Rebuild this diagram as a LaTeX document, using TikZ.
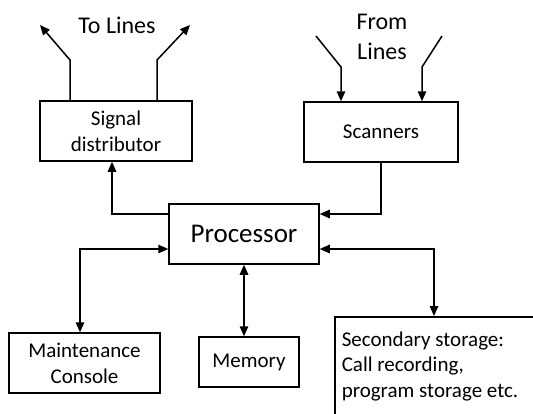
\documentclass[tikz,border=0pt]{standalone}
\usepackage{fontspec}
\setmainfont{Carlito}
\usetikzlibrary{arrows.meta}
\begin{document}
\begin{tikzpicture}[x=1pt,y=-1pt,line width=1.5pt,
  box/.style={draw,line width=1.5pt,inner sep=0pt,align=center,
              font=\fontsize{21}{26}\selectfont},
  label/.style={inner sep=0pt,align=center,font=\fontsize{24}{30}\selectfont},
  onetip/.style={-{Triangle[length=10pt,width=8.5pt]}},
  twotip/.style={{Triangle[length=10pt,width=8.5pt]}-{Triangle[length=10pt,width=8.5pt]}}]
\useasboundingbox (0,0) rectangle (533,413);
\clip (0,0) rectangle (533,413);

% blocks
\node[box,minimum width=152pt,minimum height=60pt] (sig) at (116,131) {Signal\\distributor};
\node[box,minimum width=154pt,minimum height=60pt] (scan) at (381,132) {Scanners};
\node[box,minimum width=150pt,minimum height=60pt,font=\fontsize{27}{32}\selectfont] (proc) at (244,234) {Processor};
\node[box,minimum width=151pt,minimum height=60pt] (maint) at (84.5,363) {Maintenance\\Console};
\node[box,minimum width=100pt,minimum height=50pt] (mem) at (249,362) {Memory};
\node[box,anchor=north west,minimum width=215pt,minimum height=120pt] (sec) at (334,316) {};
\node[anchor=north west,inner sep=0pt,align=left,font=\fontsize{21}{25.5}\selectfont]
  (sectext) at (341,331) {Secondary storage:\\Call recording,\\program storage etc.};

% line labels
\node[label] (tolines) at (117,25) {To Lines};
\node[label] (fromlines) at (382,37) {From\\Lines};

% outgoing lines
\coordinate (a1) at (70,60);  \coordinate (t1) at (40,25);
\coordinate (a2) at (157,60); \coordinate (t2) at (190,25);
\draw[onetip] (a1 |- sig.north) -- (a1) -- (t1);
\draw[onetip] (a2 |- sig.north) -- (a2) -- (t2);

% incoming lines
\coordinate (b1s) at (316,36); \coordinate (b1) at (341,67);
\coordinate (b2s) at (442,36); \coordinate (b2) at (422,67);
\draw[onetip] (b1s) -- (b1) -- (b1 |- scan.north);
\draw[onetip] (b2s) -- (b2) -- (b2 |- scan.north);

% processor links
\coordinate (p1) at (112,214);
\draw[onetip] (p1 -| proc.west) -- (p1) -- (p1 |- sig.south);
\draw[onetip] (scan.south) |- (p1 -| proc.east);
\coordinate (p2) at (80,249);
\draw[twotip] (p2 -| proc.west) -- (p2) -- (p2 |- maint.north);
\draw[twotip] (proc.south) -- (proc.south |- mem.north);
\coordinate (p3) at (434,249);
\draw[twotip] (p3 -| proc.east) -- (p3) -- (p3 |- sec.north);
\end{tikzpicture}
\end{document}
